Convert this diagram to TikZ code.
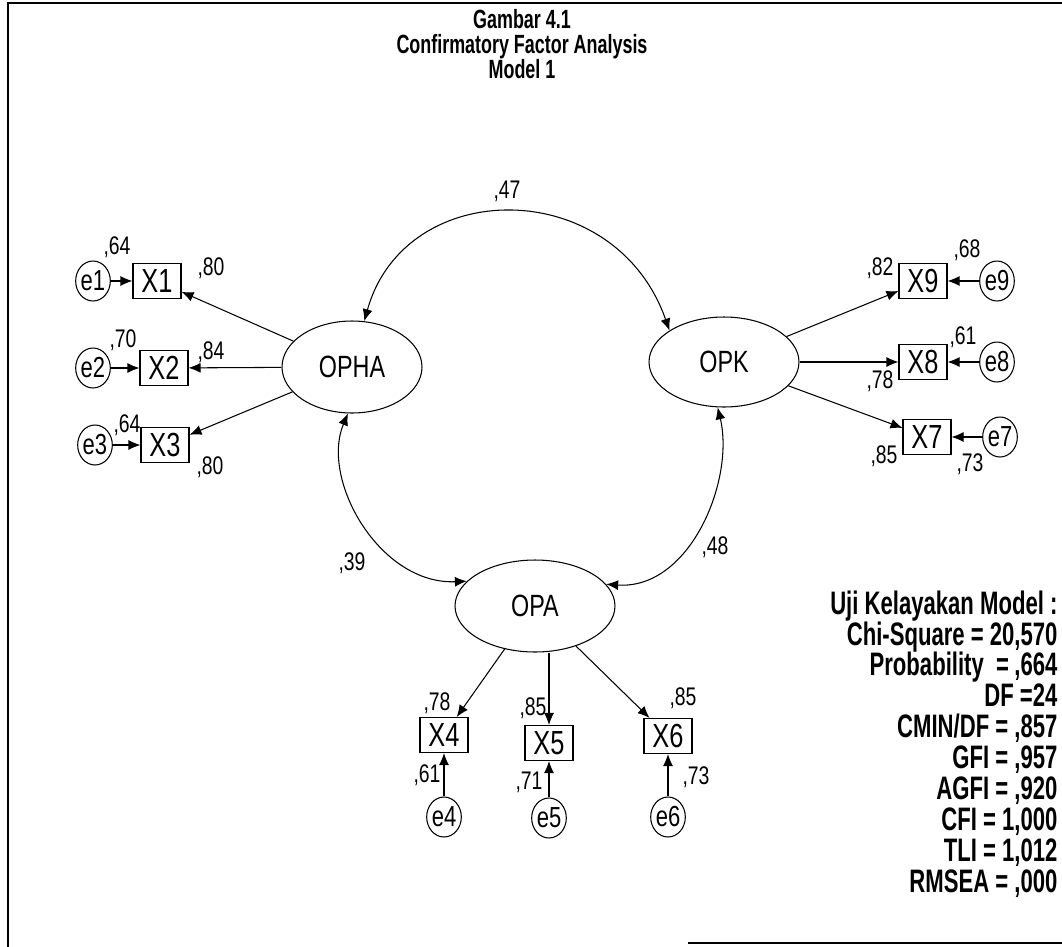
\documentclass[tikz,border=0pt]{standalone}
\usepackage{fontspec}
\setmainfont{Liberation Sans}[FakeStretch=0.76]
\newfontfamily\narrowbold{Liberation Sans}[FakeStretch=0.68]
\usetikzlibrary{arrows.meta,shapes.geometric}
\begin{document}
\begin{tikzpicture}[x=0.02cm,y=-0.02cm,
  line width=0.6pt,
  lat/.style={draw,ellipse,inner sep=0pt,font=\fontsize{17.5}{17.5}\selectfont},
  obs/.style={draw,rectangle,inner sep=0pt,minimum width=0.96cm,minimum height=0.7cm,font=\fontsize{19}{19}\selectfont},
  err/.style={draw,ellipse,inner sep=0pt,minimum width=0.6cm,minimum height=0.8cm,font=\fontsize{16.5}{16.5}\selectfont},
  lbl/.style={inner sep=0pt,font=\fontsize{14.5}{14.5}\selectfont},
  arr/.style={-{Latex[length=2.4mm,width=2mm]}},
  dbl/.style={{Latex[length=2.4mm,width=2mm]}-{Latex[length=2.4mm,width=2mm]}},
  ttl/.style={inner sep=0pt,font=\narrowbold\fontsize{15}{14.2}\bfseries\selectfont},
  fitst/.style={inner sep=0pt,font=\narrowbold\fontsize{18.5}{17.6}\bfseries\selectfont}]
\useasboundingbox (0,0) rectangle (1062,947);
% frame
\draw[line width=1.2pt] (8,947) -- (8,3) -- (1062,3);
\draw[line width=1.2pt] (688,943) -- (1062,943);
% title
\node[ttl,align=center,anchor=north] (title) at (522,9) {Gambar 4.1\\Confirmatory Factor Analysis\\Model 1};
% latent
\node[lat,minimum width=2.8cm,minimum height=1.84cm] (OPHA) at (352,367) {OPHA};
\node[lat,minimum width=3.0cm,minimum height=1.8cm] (OPK) at (724,362) {OPK};
\node[lat,minimum width=3.2cm,minimum height=1.84cm] (OPA) at (535,606) {OPA};
% left indicators
\node[obs] (X1) at (157,281) {X1};
\node[obs] (X2) at (164,368) {X2};
\node[obs] (X3) at (165,445) {X3};
\node[err] (e1) at (93,281) {e1};
\node[err] (e2) at (93,368) {e2};
\node[err] (e3) at (95,445) {e3};
% right indicators
\node[obs] (X9) at (923,281) {X9};
\node[obs] (X8) at (923,362) {X8};
\node[obs] (X7) at (927,437) {X7};
\node[err] (e9) at (997,281) {e9};
\node[err] (e8) at (997,362) {e8};
\node[err] (e7) at (1000,437) {e7};
% bottom indicators
\node[obs] (X4) at (444,735) {X4};
\node[obs] (X5) at (549,743) {X5};
\node[obs] (X6) at (668,736) {X6};
\node[err] (e4) at (444,817) {e4};
\node[err] (e5) at (549,818) {e5};
\node[err] (e6) at (668,817) {e6};
% loadings
\draw[arr] (OPHA) -- (X1);
\draw[arr] (OPHA) -- (X2);
\draw[arr] (OPHA) -- (X3);
\draw[arr] (OPK) -- (X9);
\draw[arr] (OPK) -- (X8);
\draw[arr] (OPK) -- (X7);
\draw[arr] (OPA) -- (X4);
\draw[arr] (OPA.south -| X5) -- (X5);
\draw[arr] (OPA) -- (X6);
% errors
\draw[arr] (e1) -- (X1);
\draw[arr] (e2) -- (X2);
\draw[arr] (e3) -- (X3);
\draw[arr] (e9) -- (X9);
\draw[arr] (e8) -- (X8);
\draw[arr] (e7) -- (X7);
\draw[arr] (e4) -- (X4);
\draw[arr] (e5) -- (X5);
\draw[arr] (e6) -- (X6);
% covariances
\draw[dbl] (OPHA.75) .. controls (405,175) and (615,175) .. (OPK.150);
\draw[dbl] (OPHA.265) .. controls (320,480) and (380,585) .. (OPA.160);
\draw[dbl] (OPK.262) .. controls (735,480) and (690,590) .. (OPA.17);
% labels
\node[lbl] (c47) at (507,191) {,47};
\node[lbl] (c39) at (352,563) {,39};
\node[lbl] (c48) at (715,547) {,48};
\node[lbl] (v1) at (117,247) {,64};
\node[lbl] (l1) at (211,268) {,80};
\node[lbl] (v2) at (123,340) {,70};
\node[lbl] (l2) at (211,352) {,84};
\node[lbl] (v3) at (127,425) {,64};
\node[lbl] (l3) at (210,467) {,80};
\node[lbl] (v9) at (967,250) {,68};
\node[lbl] (l9) at (880,268) {,82};
\node[lbl] (v8) at (963,337) {,61};
\node[lbl] (l8) at (880,381) {,78};
\node[lbl] (l7) at (884,456) {,85};
\node[lbl] (v7) at (970,464) {,73};
\node[lbl] (l4) at (437,703) {,78};
\node[lbl] (l5) at (533,708) {,85};
\node[lbl] (l6) at (683,698) {,85};
\node[lbl] (v4) at (427,775) {,61};
\node[lbl] (v5) at (529,782) {,71};
\node[lbl] (v6) at (696,777) {,73};
% fit statistics
\node[fitst,align=right,anchor=north east] (fit) at (1058,590) {Uji Kelayakan Model :\\Chi-Square = 20,570\\Probability\ \ =\,,664\\DF =24\\CMIN/DF = ,857\\GFI = ,957\\AGFI = ,920\\CFI = 1,000\\TLI = 1,012\\RMSEA = ,000};
\end{tikzpicture}
\end{document}
